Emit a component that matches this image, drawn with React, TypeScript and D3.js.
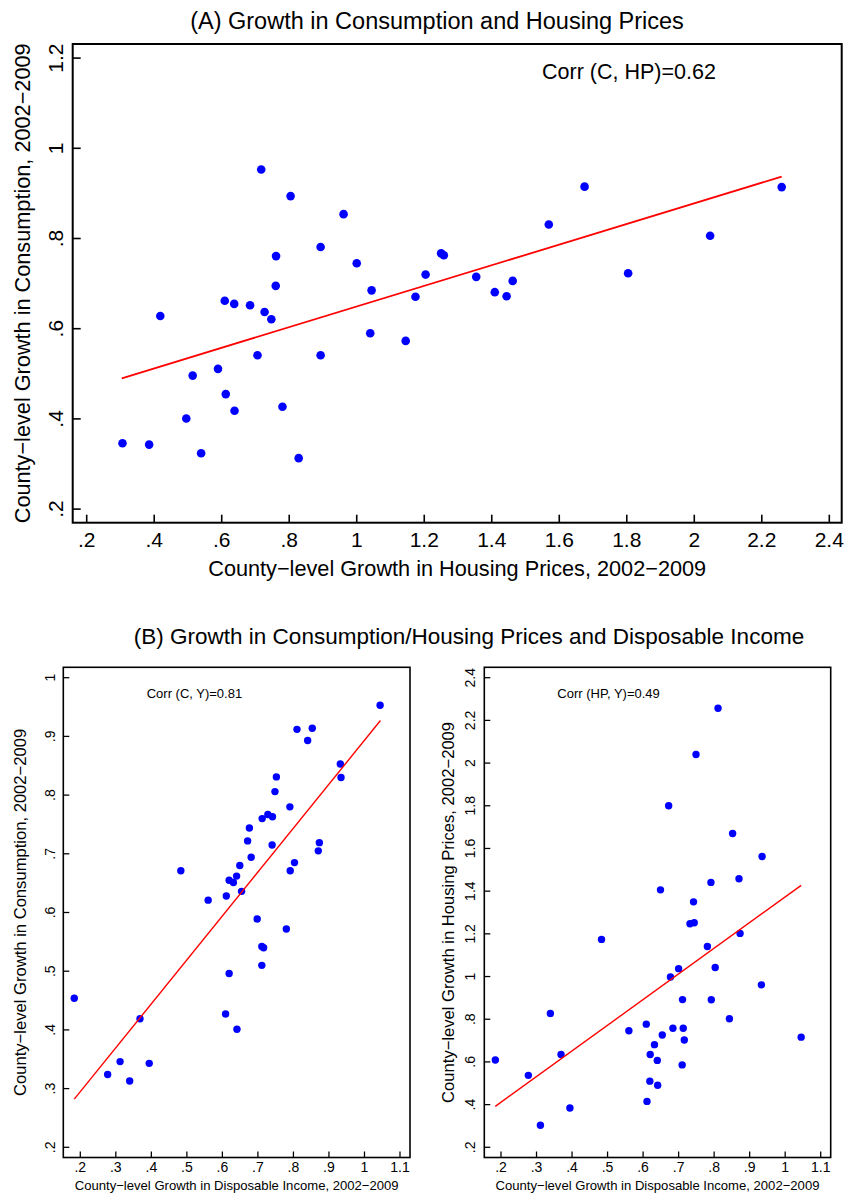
import React from "react";
import * as d3 from "d3";

// ---------- DATA ----------
// Panel A: x = housing price growth, y = consumption growth
const hpA = [0.306,0.385,0.418,0.495,0.514,0.539,0.589,0.609,0.612,0.637,0.638,0.684,0.706,0.717,0.727,0.747,0.760,0.761,0.780,0.804,0.828,0.893,0.893,0.961,1.000,1.040,1.044,1.145,1.174,1.204,1.250,1.258,1.354,1.409,1.444,1.462,1.569,1.675,1.804,2.047,2.259];
const cA = [0.346,0.343,0.628,0.401,0.496,0.324,0.511,0.662,0.455,0.655,0.418,0.652,0.541,0.953,0.637,0.621,0.695,0.761,0.427,0.894,0.313,0.781,0.541,0.854,0.745,0.590,0.685,0.573,0.671,0.720,0.767,0.763,0.715,0.681,0.672,0.706,0.831,0.915,0.723,0.806,0.914];
const fitA = { x0: 0.304, x1: 2.259, intercept: 0.4205, slope: 0.2287 };

// Panel B left: x = disposable income growth, y = consumption growth
const incBL = [0.483,0.560,0.611,0.619,0.631,0.640,0.649,0.654,0.671,0.676,0.681,0.698,0.712,0.728,0.741,0.740,0.748,0.752,0.780,0.790,0.791,0.803,0.810,0.840,0.853,0.870,0.873,0.932,0.934,1.044,0.711,0.716,0.711,0.619,0.609,0.641,0.183,0.368,0.312,0.277,0.339,0.394];
const cBL = [0.671,0.621,0.628,0.655,0.651,0.662,0.680,0.636,0.722,0.744,0.694,0.589,0.760,0.767,0.763,0.715,0.806,0.831,0.572,0.780,0.671,0.685,0.912,0.893,0.914,0.705,0.719,0.853,0.830,0.953,0.542,0.540,0.510,0.496,0.427,0.401,0.454,0.419,0.346,0.324,0.313,0.343];
const fitBL = { x0: 0.183, x1: 1.045, intercept: 0.1451, slope: 0.7483 };

// Panel B right: x = disposable income growth, y = housing price growth
const incBR = [0.811,0.749,0.672,0.852,0.935,0.791,0.870,0.649,0.742,0.732,0.744,0.483,0.873,0.781,0.700,0.803,0.677,0.933,0.711,0.792,0.843,0.609,0.684,0.713,0.560,0.654,1.045,0.716,0.632,0.620,0.369,0.640,0.184,0.710,0.277,0.619,0.641,0.611,0.394,0.311,0.339];
const hpBR = [2.257,2.040,1.800,1.670,1.562,1.441,1.458,1.406,1.350,1.247,1.252,1.174,1.202,1.141,1.037,1.042,0.998,0.961,0.892,0.891,0.802,0.777,0.758,0.758,0.746,0.726,0.716,0.703,0.681,0.635,0.635,0.607,0.609,0.586,0.537,0.510,0.491,0.415,0.384,0.303,0.827];
const fitBR = { x0: 0.184, x1: 1.045, intercept: 0.1708, slope: 1.2021 };

// Ticks
const ticksAX = [0.2,0.4,0.6,0.8,1.0,1.2,1.4,1.6,1.8,2.0,2.2,2.4];
const labelsAX = [".2",".4",".6",".8","1","1.2","1.4","1.6","1.8","2","2.2","2.4"];
const ticksAY = [0.2,0.4,0.6,0.8,1.0,1.2];
const labelsAY = [".2",".4",".6",".8","1","1.2"];
const ticksBX = [0.2,0.3,0.4,0.5,0.6,0.7,0.8,0.9,1.0,1.1];
const labelsBX = [".2",".3",".4",".5",".6",".7",".8",".9","1","1.1"];
const ticksBLY = [0.2,0.3,0.4,0.5,0.6,0.7,0.8,0.9,1.0];
const labelsBLY = [".2",".3",".4",".5",".6",".7",".8",".9","1"];
const ticksBRY = [0.2,0.4,0.6,0.8,1.0,1.2,1.4,1.6,1.8,2.0,2.2,2.4];
const labelsBRY = [".2",".4",".6",".8","1","1.2","1.4","1.6","1.8","2","2.2","2.4"];

const titleA = "(A) Growth in Consumption and Housing Prices";
const titleB = "(B) Growth in Consumption/Housing Prices and Disposable Income";
const xTitleA = "County\u2212level Growth in Housing Prices, 2002\u22122009";
const yTitleA = "County\u2212level Growth in Consumption, 2002\u22122009";
const xTitleB = "County\u2212level Growth in Disposable Income, 2002\u22122009";
const yTitleBL = "County\u2212level Growth in Consumption, 2002\u22122009";
const yTitleBR = "County\u2212level Growth in Housing Prices, 2002\u22122009";
const corrA = "Corr (C, HP)=0.62";
const corrBL = "Corr (C, Y)=0.81";
const corrBR = "Corr (HP, Y)=0.49";

const FONT = "'Liberation Sans', Arial, Helvetica, sans-serif";

type PanelProps = {
  frame: { l: number; r: number; t: number; b: number };
  xDom: [number, number]; xRange: [number, number];
  yDom: [number, number]; yRange: [number, number];
  xs: number[]; ys: number[];
  fit: { x0: number; x1: number; intercept: number; slope: number };
  xTicks: number[]; xLabels: string[];
  yTicks: number[]; yLabels: string[];
  tickLen: number; axisW: number; dotR: number; lineW: number;
  tickFont: number; xTickY: number; yTickX: number;
  xTitle: string; xTitleY: number; xTitleFont: number;
  yTitle: string; yTitleX: number; yTitleFont: number;
  corr: string; corrX: number; corrY: number; corrFont: number;
};

function Panel(p: PanelProps) {
  const x = d3.scaleLinear().domain(p.xDom).range(p.xRange);
  const y = d3.scaleLinear().domain(p.yDom).range(p.yRange);
  const line = d3.line<number>()
    .x((d) => x(d))
    .y((d) => y(p.fit.intercept + p.fit.slope * d));
  const { l, r, t, b } = p.frame;
  const cy = (t + b) / 2;
  const cx = (l + r) / 2;
  return (
    <g>
      <rect x={l} y={t} width={r - l} height={b - t} fill="none" stroke="#000" strokeWidth={p.axisW} />
      {p.xTicks.map((v, i) => (
        <g key={"xt" + i}>
          <line x1={x(v)} x2={x(v)} y1={b} y2={b - p.tickLen} stroke="#000" strokeWidth={p.axisW * 0.8} />
          <text x={x(v)} y={p.xTickY} textAnchor="middle" fontSize={p.tickFont} fontFamily={FONT}>{p.xLabels[i]}</text>
        </g>
      ))}
      {p.yTicks.map((v, i) => (
        <g key={"yt" + i}>
          <line x1={l} x2={l + p.tickLen} y1={y(v)} y2={y(v)} stroke="#000" strokeWidth={p.axisW * 0.8} />
          <text transform={`translate(${p.yTickX},${y(v)}) rotate(-90)`} textAnchor="middle" dy="0.36em" fontSize={p.tickFont} fontFamily={FONT}>{p.yLabels[i]}</text>
        </g>
      ))}
      {p.xs.map((v, i) => (
        <circle key={"pt" + i} cx={x(v)} cy={y(p.ys[i])} r={p.dotR} fill="#0000ff" />
      ))}
      <path d={line([p.fit.x0, p.fit.x1]) || ""} stroke="#ff0000" strokeWidth={p.lineW} fill="none" />
      <text x={cx} y={p.xTitleY} textAnchor="middle" fontSize={p.xTitleFont} fontFamily={FONT}>{p.xTitle}</text>
      <text transform={`translate(${p.yTitleX},${cy}) rotate(-90)`} textAnchor="middle" dy="0.36em" fontSize={p.yTitleFont} fontFamily={FONT}>{p.yTitle}</text>
      <text x={p.corrX} y={p.corrY} fontSize={p.corrFont} fontFamily={FONT}>{p.corr}</text>
    </g>
  );
}

export default function App() {
  return (
    <svg width={846} height={1193} style={{ position: "absolute", left: 0, top: 0, background: "#fff" }}>
      <rect x={0} y={0} width={846} height={1193} fill="#fff" />
      <text x={437} y={29} textAnchor="middle" fontSize={23.5} fontFamily={FONT}>{titleA}</text>
      <Panel
        frame={{ l: 72.7, r: 841.7, t: 44, b: 522.7 }}
        xDom={[0.2, 2.4]} xRange={[86.7, 829.3]}
        yDom={[0.2, 1.2]} yRange={[509.1, 58.1]}
        xs={hpA} ys={cA} fit={fitA}
        xTicks={ticksAX} xLabels={labelsAX} yTicks={ticksAY} yLabels={labelsAY}
        tickLen={8} axisW={2} dotR={4.3} lineW={1.8}
        tickFont={21} xTickY={547} yTickX={55}
        xTitle={xTitleA} xTitleY={576} xTitleFont={21.7}
        yTitle={yTitleA} yTitleX={22} yTitleFont={21.7}
        corr={corrA} corrX={542} corrY={79} corrFont={21.5}
      />
      <text x={469} y={644} textAnchor="middle" fontSize={22.5} fontFamily={FONT}>{titleB}</text>
      <Panel
        frame={{ l: 63.3, r: 410, t: 667.3, b: 1157.5 }}
        xDom={[0.2, 1.1]} xRange={[80.3, 400]}
        yDom={[0.2, 1.0]} yRange={[1147.3, 677.7]}
        xs={incBL} ys={cBL} fit={fitBL}
        xTicks={ticksBX} xLabels={labelsBX} yTicks={ticksBLY} yLabels={labelsBLY}
        tickLen={6} axisW={1.6} dotR={3.7} lineW={1.4}
        tickFont={14} xTickY={1172} yTickX={49.7}
        xTitle={xTitleB} xTitleY={1190} xTitleFont={13.1}
        yTitle={yTitleBL} yTitleX={20} yTitleFont={16.6}
        corr={corrBL} corrX={146.7} corrY={698} corrFont={13}
      />
      <Panel
        frame={{ l: 484.3, r: 830.7, t: 667.3, b: 1157.5 }}
        xDom={[0.2, 1.1]} xRange={[501, 820.7]}
        yDom={[0.2, 2.4]} yRange={[1147.3, 677.7]}
        xs={incBR} ys={hpBR} fit={fitBR}
        xTicks={ticksBX} xLabels={labelsBX} yTicks={ticksBRY} yLabels={labelsBRY}
        tickLen={6} axisW={1.6} dotR={3.7} lineW={1.4}
        tickFont={14} xTickY={1172} yTickX={469.7}
        xTitle={xTitleB} xTitleY={1190} xTitleFont={13.1}
        yTitle={yTitleBR} yTitleX={448} yTitleFont={16.6}
        corr={corrBR} corrX={557.3} corrY={698} corrFont={13}
      />
    </svg>
  );
}
